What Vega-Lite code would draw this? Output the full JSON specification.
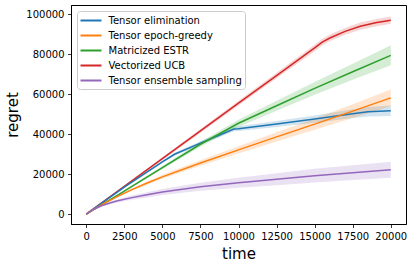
{
  "$schema": "https://vega.github.io/schema/vega-lite/v6.json",
  "width": 335,
  "height": 219,
  "autosize": {"type": "none"},
  "padding": {"left": 71, "top": 5, "right": 8, "bottom": 43},
  "config": {
    "font": "DejaVu Sans",
    "view": {"stroke": "#000000", "strokeWidth": 1},
    "axis": {
      "grid": false,
      "domainColor": "#000000",
      "domainWidth": 1,
      "tickColor": "#000000",
      "tickWidth": 0.8,
      "tickSize": 3.5,
      "labelPadding": 3.5,
      "labelFontSize": 10,
      "labelColor": "#000000",
      "labelFont": "DejaVu Sans",
      "titleFont": "DejaVu Sans",
      "titleFontSize": 15,
      "titleFontWeight": "normal",
      "titleColor": "#000000"
    }
  },
  "data": {"values": [
    {"series": "Vectorized UCB", "x": 0, "y": 0, "lo": 0, "hi": 0},
    {"series": "Vectorized UCB", "x": 2500, "y": 13900, "lo": 13500, "hi": 14300},
    {"series": "Vectorized UCB", "x": 5000, "y": 27800, "lo": 27100, "hi": 28500},
    {"series": "Vectorized UCB", "x": 7500, "y": 41700, "lo": 40700, "hi": 42700},
    {"series": "Vectorized UCB", "x": 10000, "y": 55600, "lo": 54400, "hi": 56800},
    {"series": "Vectorized UCB", "x": 12500, "y": 69400, "lo": 68000, "hi": 70800},
    {"series": "Vectorized UCB", "x": 15000, "y": 83200, "lo": 81600, "hi": 84800},
    {"series": "Vectorized UCB", "x": 15500, "y": 86100, "lo": 84500, "hi": 87700},
    {"series": "Vectorized UCB", "x": 16000, "y": 88200, "lo": 86500, "hi": 89900},
    {"series": "Vectorized UCB", "x": 17000, "y": 91500, "lo": 89800, "hi": 93200},
    {"series": "Vectorized UCB", "x": 18000, "y": 94100, "lo": 92300, "hi": 95900},
    {"series": "Vectorized UCB", "x": 19000, "y": 95800, "lo": 94000, "hi": 97600},
    {"series": "Vectorized UCB", "x": 20000, "y": 97100, "lo": 95300, "hi": 98900},

    {"series": "Tensor elimination", "x": 0, "y": 0, "lo": 0, "hi": 0},
    {"series": "Tensor elimination", "x": 2500, "y": 13600, "lo": 13300, "hi": 13900},
    {"series": "Tensor elimination", "x": 5000, "y": 26200, "lo": 25600, "hi": 26800},
    {"series": "Tensor elimination", "x": 5800, "y": 30000, "lo": 29300, "hi": 30700},
    {"series": "Tensor elimination", "x": 7500, "y": 35600, "lo": 34700, "hi": 36500},
    {"series": "Tensor elimination", "x": 9700, "y": 42600, "lo": 41500, "hi": 43700},
    {"series": "Tensor elimination", "x": 10000, "y": 42800, "lo": 41600, "hi": 44000},
    {"series": "Tensor elimination", "x": 12500, "y": 45200, "lo": 43700, "hi": 46700},
    {"series": "Tensor elimination", "x": 15000, "y": 47600, "lo": 45800, "hi": 49400},
    {"series": "Tensor elimination", "x": 17500, "y": 50300, "lo": 48100, "hi": 52500},
    {"series": "Tensor elimination", "x": 18500, "y": 51300, "lo": 48900, "hi": 53700},
    {"series": "Tensor elimination", "x": 20000, "y": 51800, "lo": 49200, "hi": 54400},

    {"series": "Matricized ESTR", "x": 0, "y": 0, "lo": 0, "hi": 0},
    {"series": "Matricized ESTR", "x": 2500, "y": 11600, "lo": 11200, "hi": 12000},
    {"series": "Matricized ESTR", "x": 5000, "y": 23300, "lo": 22500, "hi": 24100},
    {"series": "Matricized ESTR", "x": 7500, "y": 35000, "lo": 33700, "hi": 36300},
    {"series": "Matricized ESTR", "x": 10000, "y": 45500, "lo": 43700, "hi": 47300},
    {"series": "Matricized ESTR", "x": 12500, "y": 54300, "lo": 51800, "hi": 56800},
    {"series": "Matricized ESTR", "x": 15000, "y": 63000, "lo": 59800, "hi": 66200},
    {"series": "Matricized ESTR", "x": 17500, "y": 71300, "lo": 67300, "hi": 75300},
    {"series": "Matricized ESTR", "x": 20000, "y": 79500, "lo": 74500, "hi": 84500},

    {"series": "Tensor epoch-greedy", "x": 0, "y": 0, "lo": 0, "hi": 0},
    {"series": "Tensor epoch-greedy", "x": 500, "y": 2400, "lo": 2300, "hi": 2500},
    {"series": "Tensor epoch-greedy", "x": 1000, "y": 4700, "lo": 4500, "hi": 4900},
    {"series": "Tensor epoch-greedy", "x": 2000, "y": 8700, "lo": 8300, "hi": 9100},
    {"series": "Tensor epoch-greedy", "x": 3000, "y": 12300, "lo": 11700, "hi": 12900},
    {"series": "Tensor epoch-greedy", "x": 4000, "y": 15600, "lo": 14800, "hi": 16400},
    {"series": "Tensor epoch-greedy", "x": 5000, "y": 18700, "lo": 17700, "hi": 19700},
    {"series": "Tensor epoch-greedy", "x": 7500, "y": 25600, "lo": 24200, "hi": 27000},
    {"series": "Tensor epoch-greedy", "x": 10000, "y": 32200, "lo": 30400, "hi": 34000},
    {"series": "Tensor epoch-greedy", "x": 12500, "y": 38700, "lo": 36400, "hi": 41000},
    {"series": "Tensor epoch-greedy", "x": 15000, "y": 45100, "lo": 42300, "hi": 47900},
    {"series": "Tensor epoch-greedy", "x": 17500, "y": 51600, "lo": 48200, "hi": 55000},
    {"series": "Tensor epoch-greedy", "x": 20000, "y": 58200, "lo": 54000, "hi": 62400},

    {"series": "Tensor ensemble sampling", "x": 0, "y": 0, "lo": 0, "hi": 0},
    {"series": "Tensor ensemble sampling", "x": 500, "y": 2500, "lo": 2300, "hi": 2700},
    {"series": "Tensor ensemble sampling", "x": 1000, "y": 4200, "lo": 3800, "hi": 4600},
    {"series": "Tensor ensemble sampling", "x": 1500, "y": 5500, "lo": 4900, "hi": 6100},
    {"series": "Tensor ensemble sampling", "x": 2000, "y": 6600, "lo": 5800, "hi": 7400},
    {"series": "Tensor ensemble sampling", "x": 3000, "y": 8300, "lo": 7200, "hi": 9400},
    {"series": "Tensor ensemble sampling", "x": 4000, "y": 9700, "lo": 8400, "hi": 11000},
    {"series": "Tensor ensemble sampling", "x": 5000, "y": 11100, "lo": 9600, "hi": 12600},
    {"series": "Tensor ensemble sampling", "x": 7500, "y": 13700, "lo": 11700, "hi": 15700},
    {"series": "Tensor ensemble sampling", "x": 10000, "y": 15700, "lo": 13200, "hi": 18200},
    {"series": "Tensor ensemble sampling", "x": 12500, "y": 17500, "lo": 14500, "hi": 20500},
    {"series": "Tensor ensemble sampling", "x": 15000, "y": 19300, "lo": 15900, "hi": 22700},
    {"series": "Tensor ensemble sampling", "x": 17500, "y": 20800, "lo": 17100, "hi": 24500},
    {"series": "Tensor ensemble sampling", "x": 20000, "y": 22300, "lo": 18300, "hi": 26300}
  ]},
  "encoding": {
    "x": {
      "field": "x", "type": "quantitative",
      "scale": {"domain": [-1000, 21000], "nice": false, "zero": false},
      "axis": {"title": "time", "values": [0, 2500, 5000, 7500, 10000, 12500, 15000, 17500, 20000], "format": "d", "titlePadding": 5}
    },
    "color": {
      "field": "series", "type": "nominal",
      "scale": {
        "domain": ["Tensor elimination", "Tensor epoch-greedy", "Matricized ESTR", "Vectorized UCB", "Tensor ensemble sampling"],
        "range": ["#1f77b4", "#ff7f0e", "#2ca02c", "#d62728", "#9467bd"]
      },
      "legend": {
        "title": null,
        "orient": "none",
        "legendX": 6,
        "legendY": 6,
        "symbolType": "M-2,0H2",
        "symbolSize": 110,
        "symbolStrokeWidth": 2,
        "symbolOpacity": 1,
        "symbolOffset": 4.5,
        "labelFontSize": 10,
        "labelFont": "DejaVu Sans",
        "labelColor": "#000000",
        "labelOffset": 11,
        "rowPadding": 3,
        "padding": 3,
        "fillColor": "rgba(255,255,255,0.8)",
        "strokeColor": "#cccccc",
        "cornerRadius": 3
      }
    }
  },
  "layer": [
    {
      "mark": {"type": "area", "opacity": 0.2},
      "encoding": {
        "y": {"field": "lo", "type": "quantitative"},
        "y2": {"field": "hi"}
      }
    },
    {
      "mark": {"type": "line", "strokeWidth": 1.5},
      "encoding": {
        "y": {
          "field": "y", "type": "quantitative",
          "scale": {"domain": [-4900, 104700], "nice": false, "zero": false},
          "axis": {"title": "regret", "values": [0, 20000, 40000, 60000, 80000, 100000], "format": "d", "titlePadding": 5}
        }
      }
    }
  ]
}
